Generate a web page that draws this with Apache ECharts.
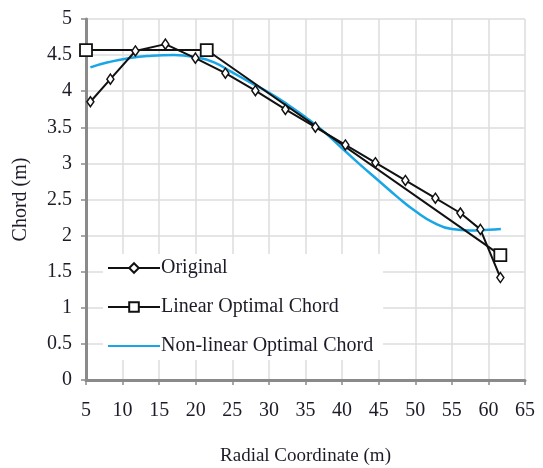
<!DOCTYPE html>
<html>
<head>
<meta charset="utf-8">
<script src="https://cdn.jsdelivr.net/npm/echarts@6/dist/echarts.min.js"></script>
<style>
  html, body { margin: 0; padding: 0; background: #fff; }
  #chart { width: 543px; height: 468px; }
</style>
</head>
<body>
<div id="chart"></div>
<script>
// Blade chord distribution along the radius
const radialNodes = [5.6, 8.3333, 11.75, 15.85, 19.95, 24.05, 28.15, 32.25, 36.35, 40.45, 44.55, 48.65, 52.75, 56.1667, 58.9, 61.6333];
const originalChord = [3.854, 4.167, 4.557, 4.652, 4.458, 4.249, 4.007, 3.748, 3.502, 3.256, 3.010, 2.764, 2.518, 2.313, 2.086, 1.419];

const linearRadius = [5, 21.5, 61.63];
const linearChord = [4.57, 4.57, 1.73];

const nonlinearRadius = [5.6, 8, 11, 14, 17, 20, 22.5, 25, 27.5, 30, 32.5, 35, 37.5, 40, 42.5, 45, 47.5, 50, 52.5, 55, 57.5, 60, 61.7];
const nonlinearChord = [4.33, 4.40, 4.46, 4.49, 4.50, 4.47, 4.40, 4.26, 4.12, 3.98, 3.82, 3.64, 3.44, 3.21, 2.98, 2.76, 2.54, 2.34, 2.18, 2.09, 2.07, 2.08, 2.09];

const seriesNames = ['Original', 'Linear Optimal Chord', 'Non-linear Optimal Chord'];
const xTitle = 'Radial Coordinate (m)';
const yTitle = 'Chord (m)';

const pairs = (xs, ys) => xs.map((x, i) => [x, ys[i]]);

const FONT = 'Liberation Serif';
const TEXT = '#1c1c28';
const AXIS = '#8a8a8a';
const GRID = '#dcdcdc';
const BLUE = '#19a6e6';

const chart = echarts.init(document.getElementById('chart'), null, { renderer: 'canvas' });

chart.setOption({
  animation: false,
  backgroundColor: '#fff',
  grid: { left: 86, right: 18, top: 19, bottom: 88, containLabel: false, outerBoundsMode: 'none' },
  legend: {
    orient: 'vertical',
    left: 103,
    top: 254,
    itemWidth: 52,
    itemHeight: 12,
    itemGap: 19,
    padding: [4, 10, 4, 4],
    backgroundColor: '#fff',
    textStyle: { fontFamily: FONT, fontSize: 20, color: TEXT, padding: [0, 0, 0, -4] },
    data: [
      { name: seriesNames[0] },
      { name: seriesNames[1] },
      { name: seriesNames[2], itemStyle: { opacity: 0 } }
    ]
  },
  xAxis: {
    type: 'value',
    min: 5, max: 65, interval: 5,
    name: xTitle,
    nameLocation: 'middle',
    nameGap: 67,
    nameTextStyle: { fontFamily: FONT, fontSize: 19, color: TEXT },
    axisLine: { show: true, lineStyle: { color: AXIS, width: 3 } },
    axisTick: { show: true, length: 5, lineStyle: { color: AXIS, width: 1.5 } },
    axisLabel: { fontFamily: FONT, fontSize: 20, color: TEXT, margin: 21 },
    splitLine: { show: true, lineStyle: { color: GRID, width: 1.5 } }
  },
  yAxis: {
    type: 'value',
    min: 0, max: 5, interval: 0.5,
    name: yTitle,
    nameLocation: 'middle',
    nameGap: 55,
    nameTextStyle: { fontFamily: FONT, fontSize: 20, color: TEXT },
    axisLine: { show: true, lineStyle: { color: AXIS, width: 3 } },
    axisTick: { show: true, length: 5, lineStyle: { color: AXIS, width: 1.5 } },
    axisLabel: { fontFamily: FONT, fontSize: 20, color: TEXT, margin: 14 },
    splitLine: { show: true, lineStyle: { color: GRID, width: 1.5 } }
  },
  series: [
    {
      name: seriesNames[0],
      type: 'line',
      data: pairs(radialNodes, originalChord),
      symbol: 'diamond',
      symbolSize: [7, 10],
      showAllSymbol: true,
      lineStyle: { color: '#111', width: 2 },
      itemStyle: { color: '#fff', borderColor: '#111', borderWidth: 1.5 },
      z: 4
    },
    {
      name: seriesNames[1],
      type: 'line',
      data: pairs(linearRadius, linearChord),
      symbol: 'rect',
      symbolSize: 12,
      lineStyle: { color: '#111', width: 2 },
      itemStyle: { color: '#fff', borderColor: '#111', borderWidth: 1.8 },
      z: 3
    },
    {
      name: seriesNames[2],
      type: 'line',
      data: pairs(nonlinearRadius, nonlinearChord),
      smooth: true,
      symbol: 'none',
      lineStyle: { color: BLUE, width: 2.5 },
      itemStyle: { color: BLUE },
      z: 2
    }
  ]
});
</script>
</body>
</html>
